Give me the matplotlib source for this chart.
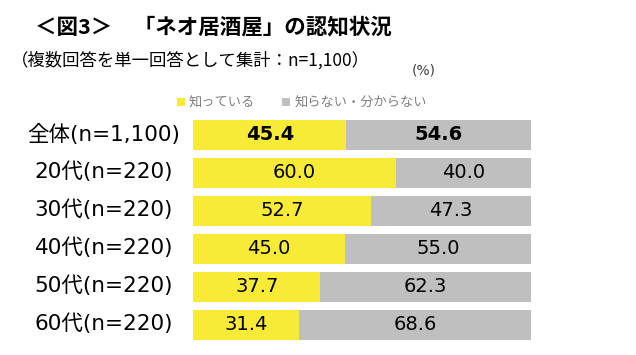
import matplotlib
matplotlib.use('Agg')
import matplotlib.pyplot as plt
import numpy as np

plt.rcParams['font.family'] = ['DejaVu Sans', 'Noto Sans CJK JP']
cjk_first = ['Noto Sans CJK JP', 'DejaVu Sans']

categories = ['全体(n=1,100)', '20代(n=220)', '30代(n=220)', '40代(n=220)', '50代(n=220)', '60代(n=220)']
known = [45.4, 60.0, 52.7, 45.0, 37.7, 31.4]
unknown = [54.6, 40.0, 47.3, 55.0, 62.3, 68.6]
series_names = ['知っている', '知らない・分からない']

yellow = '#F8EB37'
gray = '#BFBFBF'

fig = plt.figure(figsize=(6.36, 3.55), dpi=100)
ax = fig.add_axes([193 / 636, 1 - 344 / 355, 338 / 636, 228 / 355])

y = np.arange(len(categories))
b1 = ax.barh(y, known, height=0.78, color=yellow, label=series_names[0])
b2 = ax.barh(y, unknown, left=known, height=0.78, color=gray, label=series_names[1])

for bars, vals in ((b1, known), (b2, unknown)):
    for i, (rect, v) in enumerate(zip(bars, vals)):
        ax.text(rect.get_x() + rect.get_width() / 2, rect.get_y() + rect.get_height() / 2,
                f'{v:.1f}', ha='center', va='center', fontsize=14,
                fontweight='bold' if i == 0 else 'normal', color='black')

ax.set_xlim(0, 100)
ax.set_ylim(len(categories) - 0.5, -0.5)
ax.axis('off')

# category labels, centred left of the bars
for i, c in enumerate(categories):
    ax.annotate(c, xy=(0, i), xycoords=('figure fraction', 'data'),
                xytext=(104, 1), textcoords='offset pixels',
                ha='center', va='center', fontsize=15.5, color='black')

fig.text(35 / 636, 1 - 27 / 355, '＜図3＞　「ネオ居酒屋」の認知状況', fontsize=15.5,
         fontweight='bold', ha='left', va='center', family=cjk_first)
fig.text(11 / 636, 1 - 60 / 355, '（複数回答を単一回答として集計：n=1,100）', fontsize=12.5,
         ha='left', va='center', family=cjk_first)
fig.text(412 / 636, 1 - 71 / 355, '(%)', fontsize=10, ha='left', va='center', color='#404040')

leg = ax.legend(handles=[b1, b2], loc='center left', bbox_to_anchor=(170 / 636, 1 - 103 / 355),
                bbox_transform=fig.transFigure, ncol=2, frameon=False,
                prop={'family': cjk_first, 'size': 9.5},
                labelcolor='#7F7F7F', handlelength=0.6, handleheight=0.6,
                handletextpad=0.3, columnspacing=2.1, borderpad=0)

fig.savefig('out.png', dpi=100)
